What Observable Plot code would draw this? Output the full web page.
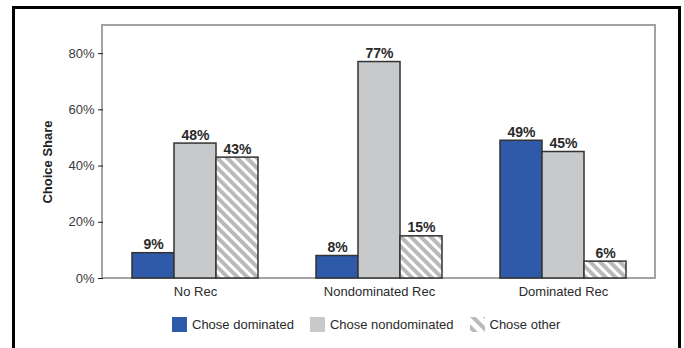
<!DOCTYPE html>
<html>
<head>
<meta charset="utf-8">
<script src="https://cdn.jsdelivr.net/npm/d3@7"></script>
<script src="https://cdn.jsdelivr.net/npm/@observablehq/plot@0.6"></script>
<style>
  html, body { margin: 0; padding: 0; background: #fff; }
  body { width: 684px; height: 348px; overflow: hidden; position: relative; font-family: "Liberation Sans", Arial, sans-serif; }
  #panel {
    position: absolute; left: 12px; top: 6px; width: 663px; height: 400px;
    border: 3px solid #000; box-sizing: content-box;
  }
  #chart svg [aria-label="y-axis tick"] { stroke: #8c8c8c; }
  #chart svg [aria-label="y-axis tick label"] { fill: #3a3a3a; }
  #chart svg [aria-label="fx-axis tick label"] { fill: #2a2a2a; }
  #legend {
    display: flex; align-items: center; padding-left: 157px; margin-top: 9px;
    font-size: 13px; color: #2a2a2a;
  }
  .item { display: flex; align-items: center; margin-right: 16px; }
  .sw { width: 15px; height: 15px; margin-right: 5px; display: block; }
</style>
</head>
<body>
<div id="panel">
  <div id="chart"></div>
  <div id="legend"></div>
</div>
<script>
// Choice share (%) by recommendation condition
const groups = ["No Rec", "Nondominated Rec", "Dominated Rec"];
const series = ["Chose dominated", "Chose nondominated", "Chose other"];
const choseDominated = [9, 8, 49];
const choseNondominated = [48, 77, 45];
const choseOther = [43, 15, 6];
const yTicks = [0, 20, 40, 60, 80];
const yLabel = "Choice Share";

const seriesValues = [choseDominated, choseNondominated, choseOther];
const rows = groups.flatMap((g, i) =>
  series.map((s, j) => ({group: g, series: s, value: seriesValues[j][i]}))
);

const blue = "#2f5aa9";
const gray = "#c8c9cb";
const fills = [blue, gray, "url(#stripes)"];

// diagonal stripe pattern for the "other" bars
function stripeDefs(id, size, band) {
  const defs = d3.create("svg:defs");
  const p = defs.append("pattern")
    .attr("id", id)
    .attr("patternUnits", "userSpaceOnUse")
    .attr("width", size).attr("height", size)
    .attr("patternTransform", "rotate(-45)");
  p.append("rect").attr("width", size).attr("height", size).attr("fill", "#fff");
  p.append("rect").attr("width", band).attr("height", size).attr("fill", "#bababa");
  return defs.node();
}

const W = 663, H = 299;
const M = {top: 16, right: 23, bottom: 30, left: 87};

const svg = Plot.plot({
  width: W, height: H,
  marginTop: M.top, marginRight: M.right, marginBottom: M.bottom, marginLeft: M.left,
  style: {fontFamily: "'Liberation Sans', Arial, sans-serif", fontSize: "13px", background: "#fff", color: "#222"},
  // facets fill the plot; the gaps between groups come from the inner x padding
  fx: {domain: groups, padding: 0, label: null, tickSize: 0, tickPadding: 8, axis: "bottom"},
  x: {domain: series, paddingInner: 0, paddingOuter: 0.643, axis: null},
  y: {domain: [0, 90], ticks: yTicks, tickFormat: d => d + "%", tickSize: 5, tickPadding: 4, label: null},
  color: {domain: series, range: fills},
  marks: [
    () => stripeDefs("stripes", 7, 4),
    Plot.barY(rows, {fx: "group", x: "series", y: "value", fill: "series", stroke: "#333", strokeWidth: 1.5}),
    Plot.text(rows, {fx: "group", x: "series", y: "value", text: d => d.value + "%",
      lineAnchor: "bottom", dy: -4, fontWeight: "bold", fontSize: 14, fill: "#2a2a2a"}),
    // y-axis title, only in the first facet
    Plot.text([{group: groups[0], label: yLabel}], {fx: "group", text: "label", frameAnchor: "left",
      textAnchor: "middle", rotate: -90, dx: -56, dy: 10, fontWeight: "bold", fontSize: 13, fill: "#222"})
  ]
});

// plot-area frame, drawn beneath the bars
d3.select(svg).insert("rect", "g")
  .attr("x", M.left).attr("y", M.top)
  .attr("width", W - M.left - M.right).attr("height", H - M.top - M.bottom)
  .attr("fill", "none").attr("stroke", "#a3a3a3").attr("stroke-width", 2);

document.getElementById("chart").appendChild(svg);

// legend
const legend = d3.select("#legend");
series.forEach((s, j) => {
  const item = legend.append("div").attr("class", "item");
  const sw = item.append("svg").attr("class", "sw").attr("width", 15).attr("height", 15);
  if (j === 2) {
    sw.node().appendChild(stripeDefs("legendStripes", 9, 4));
    sw.append("rect").attr("width", 15).attr("height", 15).attr("fill", "url(#legendStripes)");
  } else {
    sw.append("rect").attr("width", 15).attr("height", 15).attr("fill", fills[j]);
  }
  item.append("span").text(s);
});
</script>
</body>
</html>
